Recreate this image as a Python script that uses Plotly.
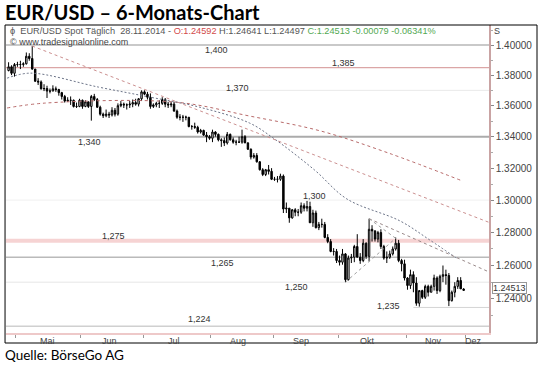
import numpy as np
import pandas as pd
import plotly.graph_objects as go

# ---------------- data (EUR/USD daily) ----------------
start_date = "2014-04-28"
end_date = "2014-11-28"

open_ = [
    1.3830, 1.3855, 1.3812,
    1.3870, 1.3870, 1.3870, 1.3875, 1.3925, 1.3910, 1.3840, 1.3760, 1.3755, 1.3710, 1.3712,
    1.3695, 1.3695, 1.3710, 1.3705, 1.3685, 1.3660, 1.3630, 1.3635, 1.3635, 1.3595, 1.3595,
    1.3635, 1.3595, 1.3625, 1.3595, 1.3660, 1.3640, 1.3590, 1.3545, 1.3535, 1.3545, 1.3540,
    1.3570, 1.3545, 1.3600, 1.3610, 1.3605, 1.3605, 1.3610, 1.3620, 1.3610, 1.3645,
    1.3690, 1.3675, 1.3655, 1.3595, 1.3605, 1.3615, 1.3615, 1.3640, 1.3610, 1.3605, 1.3610,
    1.3565, 1.3525, 1.3525, 1.3525, 1.3525, 1.3465, 1.3465, 1.3460, 1.3430, 1.3440, 1.3410, 1.3400,
    1.3390, 1.3430, 1.3415, 1.3380, 1.3375, 1.3360, 1.3415, 1.3380, 1.3365, 1.3365, 1.3365,
    1.3400, 1.3360, 1.3320, 1.3270, 1.3280, 1.3240, 1.3190, 1.3160, 1.3190, 1.3180,
    1.3130, 1.3130, 1.3130, 1.3150, 1.2945, 1.2950, 1.2890, 1.2940, 1.2925, 1.2925, 1.2965,
    1.2950, 1.2960, 1.2860, 1.2920, 1.2830, 1.2850, 1.2850, 1.2770, 1.2745, 1.2685, 1.2685,
    1.2630, 1.2620, 1.2670, 1.2515, 1.2645, 1.2650, 1.2715, 1.2650, 1.2630, 1.2735, 1.2655,
    1.2820, 1.2810, 1.2760, 1.2800, 1.2715, 1.2645, 1.2650, 1.2670, 1.2700, 1.2735, 1.2630, 1.2610,
    1.2525, 1.2480, 1.2545, 1.2495, 1.2375, 1.2450, 1.2410, 1.2475, 1.2440, 1.2475,
    1.2525, 1.2450, 1.2535, 1.2545, 1.2540, 1.2390, 1.2440, 1.2475, 1.2510, 1.24592,
]
high = [
    1.3885, 1.3865, 1.3880,
    1.3888, 1.3895, 1.3885, 1.3950, 1.3945, 1.3993, 1.3840, 1.3780, 1.3765, 1.3740, 1.3730,
    1.3712, 1.3733, 1.3725, 1.3710, 1.3690, 1.3670, 1.3655, 1.3660, 1.3640, 1.3620, 1.3645,
    1.3640, 1.3635, 1.3625, 1.3670, 1.3677, 1.3650, 1.3600, 1.3555, 1.3575, 1.3560, 1.3590,
    1.3585, 1.3615, 1.3630, 1.3620, 1.3615, 1.3630, 1.3640, 1.3645, 1.3650, 1.3700,
    1.3700, 1.3690, 1.3680, 1.3615, 1.3625, 1.3635, 1.3655, 1.3650, 1.3625, 1.3625, 1.3625,
    1.3575, 1.3545, 1.3540, 1.3535, 1.3525, 1.3475, 1.3490, 1.3470, 1.3450, 1.3445, 1.3430, 1.3410,
    1.3445, 1.3435, 1.3420, 1.3390, 1.3395, 1.3430, 1.3420, 1.3395, 1.3380, 1.3400, 1.3445,
    1.3410, 1.3365, 1.3325, 1.3295, 1.3295, 1.3245, 1.3200, 1.3195, 1.3220, 1.3200,
    1.3145, 1.3150, 1.3165, 1.3160, 1.2985, 1.2950, 1.2945, 1.2950, 1.2945, 1.2985, 1.2980,
    1.2995, 1.2990, 1.2940, 1.2935, 1.2865, 1.2885, 1.2865, 1.2790, 1.2760, 1.2705, 1.2700,
    1.2660, 1.2700, 1.2675, 1.2660, 1.2670, 1.2725, 1.2790, 1.2675, 1.2760, 1.2740, 1.2885,
    1.2845, 1.2815, 1.2810, 1.2820, 1.2725, 1.2685, 1.2690, 1.2715, 1.2770, 1.2755, 1.2640, 1.2635,
    1.2530, 1.2575, 1.2565, 1.2530, 1.2450, 1.2455, 1.2485, 1.2485, 1.2485, 1.2545,
    1.2535, 1.2545, 1.2600, 1.2575, 1.2555, 1.2450, 1.2500, 1.2530, 1.2530, 1.24641,
]
low = [
    1.3825, 1.3800, 1.3790,
    1.3855, 1.3840, 1.3855, 1.3870, 1.3895, 1.3835, 1.3755, 1.3735, 1.3705, 1.3695, 1.3650,
    1.3680, 1.3695, 1.3690, 1.3665, 1.3640, 1.3620, 1.3625, 1.3605, 1.3588, 1.3585, 1.3590,
    1.3580, 1.3590, 1.3585, 1.3503, 1.3630, 1.3585, 1.3535, 1.3520, 1.3525, 1.3520, 1.3530,
    1.3530, 1.3535, 1.3590, 1.3585, 1.3575, 1.3585, 1.3590, 1.3600, 1.3595, 1.3630,
    1.3670, 1.3640, 1.3580, 1.3585, 1.3590, 1.3585, 1.3605, 1.3590, 1.3585, 1.3590, 1.3560,
    1.3515, 1.3505, 1.3495, 1.3505, 1.3460, 1.3445, 1.3450, 1.3420, 1.3420, 1.3405, 1.3365, 1.3380,
    1.3365, 1.3400, 1.3370, 1.3335, 1.3340, 1.3350, 1.3375, 1.3355, 1.3345, 1.3360, 1.3355,
    1.3360, 1.3315, 1.3255, 1.3260, 1.3235, 1.3185, 1.3150, 1.3150, 1.3160, 1.3125,
    1.3120, 1.3110, 1.3120, 1.2920, 1.2920, 1.2860, 1.2885, 1.2900, 1.2900, 1.2915, 1.2930,
    1.2930, 1.2860, 1.2835, 1.2825, 1.2815, 1.2830, 1.2765, 1.2735, 1.2680, 1.2660, 1.2615,
    1.2600, 1.2605, 1.2500, 1.2510, 1.2615, 1.2620, 1.2650, 1.2610, 1.2620, 1.2640, 1.2625,
    1.2745, 1.2745, 1.2740, 1.2700, 1.2635, 1.2615, 1.2640, 1.2660, 1.2690, 1.2620, 1.2565, 1.2510,
    1.2455, 1.2460, 1.2440, 1.2360, 1.2355, 1.2400, 1.2400, 1.2415, 1.2440, 1.2450,
    1.2430, 1.2440, 1.2500, 1.2485, 1.2358, 1.2385, 1.2410, 1.2460, 1.2460, 1.24497,
]
close = [
    1.3855, 1.3812, 1.3870,
    1.3870, 1.3870, 1.3875, 1.3925, 1.3910, 1.3840, 1.3760, 1.3755, 1.3710, 1.3712, 1.3695,
    1.3695, 1.3710, 1.3705, 1.3685, 1.3660, 1.3630, 1.3635, 1.3635, 1.3595, 1.3595, 1.3635,
    1.3595, 1.3625, 1.3595, 1.3660, 1.3640, 1.3590, 1.3545, 1.3535, 1.3545, 1.3540, 1.3570,
    1.3545, 1.3600, 1.3610, 1.3605, 1.3605, 1.3610, 1.3620, 1.3610, 1.3645, 1.3690,
    1.3675, 1.3655, 1.3595, 1.3605, 1.3615, 1.3615, 1.3640, 1.3610, 1.3605, 1.3610, 1.3565,
    1.3525, 1.3525, 1.3525, 1.3525, 1.3465, 1.3465, 1.3460, 1.3430, 1.3440, 1.3410, 1.3400, 1.3390,
    1.3430, 1.3415, 1.3380, 1.3375, 1.3360, 1.3415, 1.3380, 1.3365, 1.3365, 1.3365, 1.3400,
    1.3360, 1.3320, 1.3270, 1.3280, 1.3240, 1.3190, 1.3160, 1.3190, 1.3180, 1.3130,
    1.3130, 1.3130, 1.3150, 1.2945, 1.2950, 1.2890, 1.2940, 1.2925, 1.2925, 1.2965, 1.2950,
    1.2960, 1.2860, 1.2920, 1.2830, 1.2850, 1.2850, 1.2770, 1.2745, 1.2685, 1.2685, 1.2630,
    1.2620, 1.2670, 1.2515, 1.2645, 1.2650, 1.2715, 1.2650, 1.2630, 1.2735, 1.2655, 1.2820,
    1.2810, 1.2760, 1.2800, 1.2715, 1.2645, 1.2650, 1.2670, 1.2700, 1.2735, 1.2630, 1.2610, 1.2525,
    1.2480, 1.2545, 1.2495, 1.2375, 1.2450, 1.2410, 1.2475, 1.2440, 1.2475, 1.2525,
    1.2450, 1.2535, 1.2545, 1.2540, 1.2390, 1.2440, 1.2475, 1.2510, 1.2460, 1.24513,
]

# moving averages
ma200_dates = ["2014-04-28", "2014-05-15", "2014-07-16", "2014-08-20", "2014-09-23",
               "2014-10-24", "2014-11-28"]
ma200_vals = [1.3585, 1.3617, 1.3623, 1.3533, 1.3437, 1.3296, 1.3120]
ma50_dates = ["2014-04-28", "2014-05-08", "2014-06-10", "2014-07-03", "2014-07-28",
              "2014-08-20", "2014-09-01", "2014-09-19", "2014-10-06", "2014-10-30",
              "2014-11-13", "2014-11-26"]
ma50_vals = [1.3780, 1.3813, 1.3721, 1.3657, 1.3591, 1.3488, 1.3392, 1.3189, 1.3007,
             1.2871, 1.2755, 1.2646]

# drawn trend lines
trend_may_dates = ["2014-05-08 12:00", "2014-12-11"]
trend_may_vals = [1.3993, 1.2863]
trend_oct_dates = ["2014-10-15 12:00", "2014-12-11"]
trend_oct_vals = [1.2885, 1.2562]
tri_low_dates = ["2014-10-03 12:00", "2014-10-28 12:00"]
tri_low_vals = [1.2500, 1.2765]
tri_high_dates = ["2014-10-15 12:00", "2014-10-28 12:00"]
tri_high_vals = [1.2885, 1.2765]

# horizontal support / resistance levels
levels = [1.400, 1.385, 1.370, 1.340, 1.300, 1.275, 1.265, 1.250, 1.235, 1.224]
level_label_dates = ["2014-08-05", "2014-10-03", "2014-08-14", "2014-06-05", "2014-09-19",
                     "2014-06-17", "2014-08-07", "2014-09-11", "2014-10-24", "2014-07-28"]

# axis ticks
ytick_vals = [1.24, 1.26, 1.28, 1.30, 1.32, 1.34, 1.36, 1.38, 1.40]
yminor_vals = [1.23, 1.25, 1.27, 1.29, 1.31, 1.33, 1.35, 1.37, 1.39, 1.41]
month_labels = ["Mai", "Jun", "Jul", "Aug", "Sep", "Okt", "Nov", "Dez"]
month_label_pos = ["2014-05-15 12:00", "2014-06-13 18:00", "2014-07-15 10:00",
                   "2014-08-14 07:00", "2014-09-12 14:00", "2014-10-14 22:00",
                   "2014-11-14 05:00", "2014-12-04 00:00"]
month_starts = ["2014-05-01", "2014-06-02", "2014-07-01", "2014-08-01", "2014-09-01",
                "2014-10-01", "2014-11-03", "2014-12-01"]

# ---------------- styles ----------------
level_style = {
    1.400: ("#c9c9c9", 2.0, -5),
    1.385: ("#dba6a6", 1.3, 5),
    1.370: ("#e9e9e9", 1.0, 2),
    1.340: ("#ababab", 2.0, -5),
    1.300: ("#f0f0f0", 1.0, 4),
    1.275: ("#f6d3d3", 4.0, 5),
    1.265: ("#bababa", 1.5, -6),
    1.250: ("#e6e6e6", 1.0, -5),
    1.235: ("#d4d4d4", 1.0, 1),
    1.224: ("#d0d0d0", 1.5, 7),
}
x_range = ["2014-04-25 15:00", "2014-12-11 02:00"]
y_range = [0.086365, 0.150278]
AX_FONT = "Liberation Sans"

dates = pd.bdate_range(start_date, end_date) + pd.Timedelta(hours=12)

fig = go.Figure()

fig.add_trace(go.Candlestick(
    x=dates, open=open_, high=high, low=low, close=close,
    increasing=dict(line=dict(color="black", width=1), fillcolor="white"),
    decreasing=dict(line=dict(color="black", width=1), fillcolor="black"),
    whiskerwidth=0, hoverinfo="skip", showlegend=False,
))

fig.add_trace(go.Scatter(x=ma200_dates, y=ma200_vals, mode="lines", line_shape="spline",
                         line=dict(color="#b86a6a", width=1, dash="dot"),
                         hoverinfo="skip", showlegend=False))
fig.add_trace(go.Scatter(x=ma50_dates, y=ma50_vals, mode="lines", line_shape="spline",
                         line=dict(color="#6c7488", width=1, dash="2px,2px"),
                         hoverinfo="skip", showlegend=False))
fig.add_trace(go.Scatter(x=trend_may_dates, y=trend_may_vals, mode="lines",
                         line=dict(color="#cc9090", width=1, dash="dot"),
                         hoverinfo="skip", showlegend=False))
fig.add_trace(go.Scatter(x=trend_oct_dates, y=trend_oct_vals, mode="lines",
                         line=dict(color="#9a8a8a", width=1, dash="dot"),
                         hoverinfo="skip", showlegend=False))
for dts, vals in ((tri_low_dates, tri_low_vals), (tri_high_dates, tri_high_vals)):
    fig.add_trace(go.Scatter(x=dts, y=vals, mode="lines",
                             line=dict(color="#a0a0a0", width=1, dash="dot"),
                             hoverinfo="skip", showlegend=False))

shapes = []
annotations = []
for lvl, d in zip(levels, level_label_dates):
    color, width, yshift = level_style[lvl]
    if lvl == 1.235:
        shapes.append(dict(type="line", xref="x", yref="y", x0="2014-11-05 12:00",
                           x1=x_range[1], y0=lvl, y1=lvl, layer="below",
                           line=dict(color=color, width=width)))
    else:
        shapes.append(dict(type="line", xref="paper", yref="y", x0=0, x1=1,
                           y0=lvl, y1=lvl, layer="below",
                           line=dict(color=color, width=width)))
    annotations.append(dict(x=d, y=np.log10(lvl), xref="x", yref="y",
                            text=f"{lvl:.3f}".replace(".", ","), showarrow=False,
                            yshift=yshift, font=dict(family=AX_FONT, size=9, color="#333")))

# month labels just under the plot
for pos, lab in zip(month_label_pos, month_labels):
    annotations.append(dict(x=pos, xref="x", y=0, yref="paper", yanchor="top",
                            yshift=-1, text=lab, showarrow=False,
                            font=dict(family=AX_FONT, size=9, color="#444")))

# outer frame
shapes.append(dict(type="rect", xref="paper", yref="paper", x0=-0.002, x1=1.0994,
                   y0=-0.0325, y1=1.0, line=dict(color="black", width=1)))

header = ('<span style="color:#555">ϕ  EUR/USD Spot Täglich  28.11.2014 - </span>'
          '<span style="color:#d24a4a">O:1.24592</span>'
          '<span style="color:#555"> H:1.24641 L:1.24497 </span>'
          '<span style="color:#52a852">C:1.24513 -0.00079 -0.06341%</span>')
annotations += [
    dict(xref="paper", yref="paper", x=0, y=1, xanchor="left", yanchor="middle",
         xshift=2, yshift=-6, text=header, showarrow=False,
         font=dict(family=AX_FONT, size=9.2, color="#555")),
    dict(xref="paper", yref="paper", x=0, y=1, xanchor="left", yanchor="middle",
         xshift=2, yshift=-17, text="© www.tradesignalonline.com", showarrow=False,
         font=dict(family=AX_FONT, size=9, color="#444")),
    dict(xref="paper", yref="paper", x=1, y=1, xanchor="left", yanchor="middle",
         xshift=3, yshift=-6, text="S", showarrow=False,
         font=dict(family=AX_FONT, size=9, color="#444")),
    dict(xref="paper", yref="paper", x=0, y=1, xanchor="left", yanchor="middle",
         xshift=-3, yshift=13, text="<b>EUR/USD – 6-Monats-Chart</b>", showarrow=False,
         font=dict(family="Lato, Open Sans, sans-serif", size=20, color="black")),
    dict(xref="paper", yref="paper", x=0, y=0, xanchor="left", yanchor="middle",
         xshift=-3, yshift=-22, text="Quelle: BörseGo AG", showarrow=False,
         font=dict(family="Lato, Open Sans, sans-serif", size=13.5, color="black")),
    dict(xref="paper", yref="y", x=1, y=np.log10(close[-1]), xanchor="left",
         yanchor="middle", xshift=3, yshift=2, text=f"{close[-1]:.5f}", showarrow=False,
         bgcolor="white", bordercolor="#999", borderwidth=1, borderpad=0,
         font=dict(family=AX_FONT, size=9, color="#333")),
]

fig.update_layout(
    width=540, height=370,
    margin=dict(l=6, r=51, t=25, b=37),
    paper_bgcolor="white", plot_bgcolor="white",
    showlegend=False,
    shapes=shapes, annotations=annotations,
    xaxis=dict(
        type="date", range=x_range, rangebreaks=[dict(bounds=["sat", "mon"])],
        rangeslider=dict(visible=False), showgrid=False, zeroline=False,
        showline=True, linecolor="#eec9c9", linewidth=2,
        showticklabels=False, ticks="",
        minor=dict(tickmode="array", tickvals=month_starts, ticks="outside",
                   ticklen=3, tickcolor="#999", showgrid=False),
        fixedrange=True,
    ),
    yaxis=dict(
        type="log", side="right", range=y_range,
        tickmode="array", tickvals=ytick_vals, ticktext=[f"{v:.5f}" for v in ytick_vals],
        ticks="outside", ticklen=3, tickcolor="#888",
        showline=True, linecolor="#c9a3a3", linewidth=1.5,
        showgrid=False, zeroline=False,
        tickfont=dict(family=AX_FONT, size=10, color="#444"),
        minor=dict(tickmode="array", tickvals=yminor_vals, ticks="outside",
                   ticklen=2, tickcolor="#aaa", showgrid=False),
        fixedrange=True,
    ),
)

fig.write_html("out.html")
